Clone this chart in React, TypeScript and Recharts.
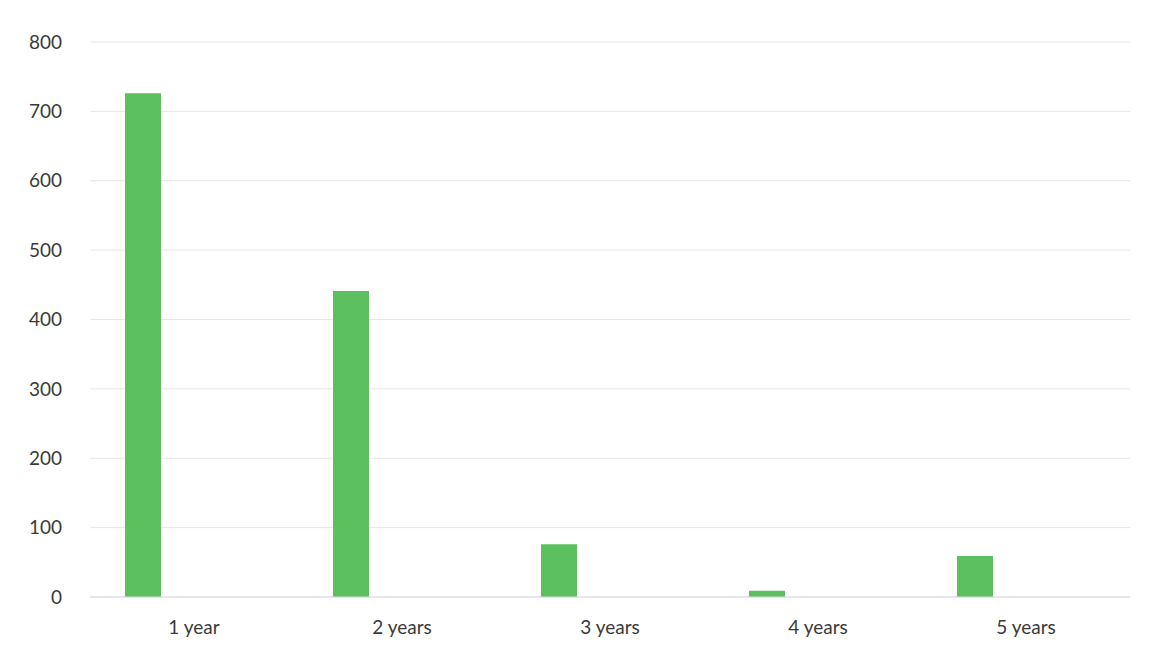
import React from "react";
import { BarChart, Bar, XAxis, YAxis, CartesianGrid } from "recharts";

const categories = ["1 year", "2 years", "3 years", "4 years", "5 years"];
const counts = [726, 441, 76, 9, 59];
const emptySeries = [0, 0, 0, 0, 0];
const yTicks = [0, 100, 200, 300, 400, 500, 600, 700, 800];

const data = categories.map((c, i) => ({ name: c, count: counts[i], other: emptySeries[i] }));

export default function App() {
  return (
    <div style={{ position: "absolute", left: 0, top: 0, width: 1153, height: 653, background: "#fff" }}>
      <BarChart
        width={1153}
        height={653}
        data={data}
        margin={{ top: 42, right: 23, bottom: 0, left: 20 }}
        barSize={36}
        barGap={66}
      >
        <CartesianGrid horizontal vertical={false} stroke="#e6e6e6" />
        <XAxis
          dataKey="name"
          height={56}
          tickLine={false}
          axisLine={{ stroke: "#d9d9d9" }}
          tickMargin={18}
          tick={{ fill: "#3a3a3a", fontSize: 19, fontFamily: "Lato" }}
        />
        <YAxis
          width={70}
          domain={[0, 800]}
          ticks={yTicks}
          tickLine={false}
          axisLine={false}
          tickMargin={22}
          tick={{ fill: "#3a3a3a", fontSize: 19, fontFamily: "Lato" }}
        />
        <Bar dataKey="count" fill="#5cc05f" isAnimationActive={false} />
        <Bar dataKey="other" fill="#5cc05f" isAnimationActive={false} />
      </BarChart>
    </div>
  );
}
